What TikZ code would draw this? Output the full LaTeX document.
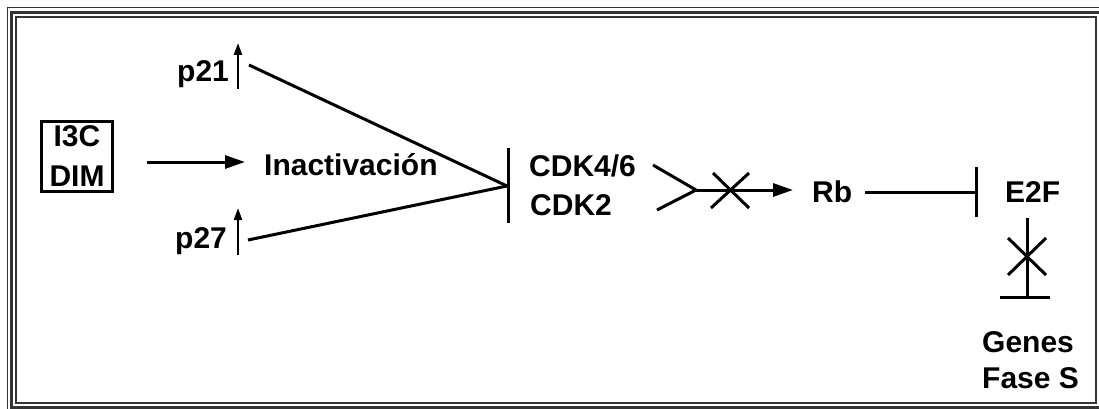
\documentclass[tikz,border=0pt]{standalone}
\usepackage{fontspec}
\setmainfont{Liberation Sans}
\usetikzlibrary{arrows.meta}
\begin{document}
\begin{tikzpicture}[x=1pt,y=-1pt,
  lbl/.style={inner sep=0pt, font=\fontsize{30}{40}\selectfont\bfseries, anchor=base west},
  ln/.style={line width=3pt},
  arr/.style={line width=3pt, -{Triangle[length=20pt,width=13pt]}},
  uparr/.style={line width=2.5pt, -{Triangle[length=12pt,width=8pt]}},
  frthin/.style={line width=1.5pt, draw=black!80},
  frthick/.style={line width=3.5pt, draw=black!80},
  frinner/.style={line width=2pt, draw=black!80}]
\useasboundingbox (0,0) rectangle (1099,409);
% frame
\draw[frthin] (7.5,409) -- (7.5,7.5) -- (1099,7.5);
\draw[frthick] (1099,407.5) -- (11.7,407.5) -- (11.7,12.5) -- (1099,12.5);
\draw[frinner] (16,17.5) rectangle (1096,403);
% labels
\node[lbl] (p21) at (177,82) {p21};
\node[lbl] (p27) at (175,248) {p27};
\node[lbl] (inact) at (264,175) {Inactivación};
\node[lbl] (cdk46) at (529,176) {CDK4/6};
\node[lbl] (cdk2) at (530,215) {CDK2};
\node[lbl] (rb) at (812,202) {Rb};
\node[lbl] (e2f) at (1005,202) {E2F};
\node[lbl] (genes) at (982,352) {Genes};
\node[lbl] (fase) at (982,388) {Fase S};
\node[draw, line width=3pt, inner sep=0pt, minimum width=71pt, minimum height=70pt,
  align=center, font=\fontsize{30}{40}\selectfont\bfseries] (box) at (77,156.5) {I3C\\DIM};
% coordinates
\coordinate (p21b) at (238,89);  \coordinate (p21t) at (238,43);
\coordinate (p27b) at (238,255); \coordinate (p27t) at (238,208);
\coordinate (p21e) at (249,65);  \coordinate (p27e) at (248,240);
\coordinate (conv) at (507,186);
\coordinate (bar1t) at (508,148); \coordinate (bar1b) at (508,223);
\coordinate (boxs) at (147,162); \coordinate (boxt) at (245,162);
\coordinate (f1) at (653,165); \coordinate (f2) at (657,210); \coordinate (fj) at (696,190);
\coordinate (rbtip) at (793,190);
\coordinate (x1a) at (713,173); \coordinate (x1b) at (749,208);
\coordinate (x1c) at (749,173); \coordinate (x1d) at (711,208);
\coordinate (rbs) at (865,192); \coordinate (rbe) at (976,192);
\coordinate (bar2t) at (976,167); \coordinate (bar2b) at (976,217);
\coordinate (ev1) at (1027,218); \coordinate (ev2) at (1027,297);
\coordinate (x2a) at (1008,238); \coordinate (x2b) at (1046,275);
\coordinate (x2c) at (1046,238); \coordinate (x2d) at (1008,275);
\coordinate (tb1) at (1000,297); \coordinate (tb2) at (1050,297);
% connectors
\draw[uparr] (p21b) -- (p21t);
\draw[uparr] (p27b) -- (p27t);
\draw[ln] (p21e) -- (conv);
\draw[ln] (p27e) -- (conv);
\draw[ln] (bar1t) -- (bar1b);
\draw[arr] (boxs) -- (boxt);
\draw[ln] (f1) -- (fj) -- (f2);
\draw[arr] (fj) -- (rbtip);
\draw[ln] (x1a) -- (x1b);
\draw[ln] (x1c) -- (x1d);
\draw[ln] (rbs) -- (rbe);
\draw[ln] (bar2t) -- (bar2b);
\draw[ln] (ev1) -- (ev2);
\draw[ln] (x2a) -- (x2b);
\draw[ln] (x2c) -- (x2d);
\draw[ln] (tb1) -- (tb2);
\end{tikzpicture}
\end{document}
